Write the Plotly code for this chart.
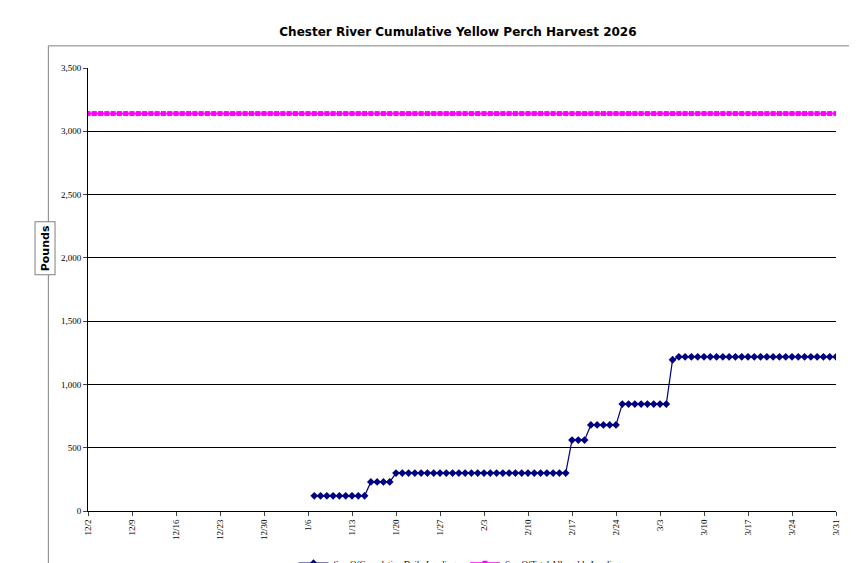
import pandas as pd
import plotly.graph_objects as go

dates = pd.date_range("2025-12-02", "2026-03-31", freq="D")

# cumulative landings, from 1/7 on
cum_start = "2026-01-07"
cum_values = ([120] * 9 + [230] * 4 + [300] * 28 + [560] * 3 + [680] * 5
              + [845] * 8 + [1195] + [1218] * 26)
cum_dates = pd.date_range(cum_start, periods=len(cum_values), freq="D")

tal_value = 3140
tal_values = [tal_value] * len(dates)

tick_dates = pd.date_range("2025-12-02", "2026-03-31", freq="7D").tolist() + [pd.Timestamp("2026-03-31")]
tick_text = [f"{d.month}/{d.day}" for d in tick_dates]

fig = go.Figure()
fig.add_trace(go.Scatter(
    x=cum_dates, y=cum_values, mode="lines+markers",
    line={"color": "#000080", "width": 1.2},
    marker={"symbol": "diamond", "size": 6, "color": "#000080"},
    name="SumOfCumulative Daily Landings"))
fig.add_trace(go.Scatter(
    x=dates, y=tal_values, mode="lines+markers",
    line={"color": "#FF00FF", "width": 2},
    marker={"symbol": "square", "size": 5, "color": "#FF00FF"},
    name="SumOfTotal Allowable Landings"))

fig.update_layout(
    width=857, height=563, paper_bgcolor="white", plot_bgcolor="white",
    margin={"l": 80, "r": 29, "t": 60, "b": 60, "autoexpand": False},
    title={"text": "<b>Chester River Cumulative Yellow Perch Harvest 2026</b>",
           "x": 0.525, "y": 0.965, "font": {"family": "DejaVu Sans", "size": 12, "color": "black"}},
    font={"family": "Liberation Serif", "size": 9, "color": "black"},
    showlegend=True,
    legend={"orientation": "h", "x": 0.5, "xanchor": "center", "y": -0.085, "yanchor": "top",
            "font": {"family": "Liberation Serif", "size": 9}},
    shapes=[{"type": "rect", "xref": "paper", "yref": "paper", "x0": -0.053, "x1": 1.029,
             "y0": -0.124, "y1": 1.05, "line": {"color": "#808080", "width": 1}}],
    annotations=[{"text": "<b>Pounds</b>", "xref": "paper", "yref": "paper", "x": -0.071, "y": 0.594,
                  "textangle": -90, "showarrow": False, "bordercolor": "#808080", "borderwidth": 1,
                  "bgcolor": "white", "borderpad": 3, "font": {"family": "DejaVu Sans", "size": 11}}],
)
fig.update_xaxes(range=[pd.Timestamp("2025-12-02"), pd.Timestamp("2026-03-31")],
                 tickvals=tick_dates, ticktext=tick_text, tickangle=-90, automargin=False,
                 showline=True, linecolor="black", ticks="outside", ticklen=4,
                 showgrid=False, mirror=False)
fig.update_yaxes(range=[0, 3500], dtick=500, tickformat=",", showgrid=True, gridcolor="black",
                 gridwidth=1, showline=True, linecolor="black", ticks="outside", ticklen=4,
                 zeroline=False, automargin=False)

fig.write_html("out.html")
